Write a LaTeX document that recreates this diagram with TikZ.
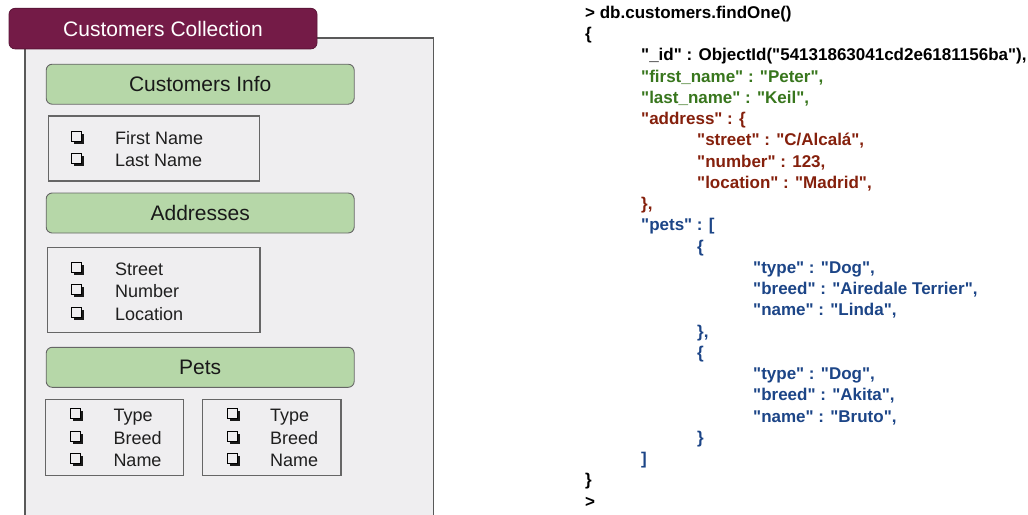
\documentclass[tikz,border=0pt]{standalone}
\usepackage{fontspec}
\setmainfont{Liberation Sans}[Ligatures=TeXOff]
\definecolor{tabmaroon}{HTML}{741B47}
\definecolor{headgreen}{HTML}{B6D7A8}
\definecolor{panelgray}{HTML}{EFEEF0}
\definecolor{edgegray}{HTML}{666666}
\definecolor{keygreen}{HTML}{38761D}
\definecolor{keyred}{HTML}{85200C}
\definecolor{keyblue}{HTML}{1C4587}
\tikzset{
  tabbox/.style={draw=tabmaroon!80!black, fill=tabmaroon, rounded corners=6pt, line width=0.8pt,
    minimum width=308pt, minimum height=40.5pt, inner sep=0pt, outer sep=0pt,
    text=white, font=\fontsize{21}{21}\selectfont},
  headbox/.style={draw=edgegray, fill=headgreen, rounded corners=6pt, line width=0.9pt,
    minimum width=308pt, minimum height=40pt, inner sep=0pt, outer sep=0pt,
    text=black!90, font=\fontsize{21}{21}\selectfont},
  listbox/.style={draw=edgegray, fill=panelgray, line width=1.3pt, inner sep=0pt, outer sep=0pt},
  item/.style={font=\fontsize{18}{18}\selectfont, anchor=base west, inner sep=0pt, text=black!88},
  code/.style={font=\bfseries\fontsize{17}{17}\selectfont, anchor=base west, inner sep=0pt},
  % shadowed check box, placed at the text baseline below its centre
  chkbox/.pic={
    \fill[black!90] (-2.4,-10.4) rectangle (7.6,-0.4);
    \draw[black, fill=panelgray, line width=0.7pt] (-5,-13) rectangle (5,-3);
  },
}
\begin{document}
\begin{tikzpicture}[x=1pt,y=-1pt]
\useasboundingbox (0,0) rectangle (1028,514);
\fill[white] (0,0) rectangle (1028,514);
\begin{scope}
\clip (0,0) rectangle (1028,514);
% collection panel
\draw[draw=black!65, fill=panelgray, line width=1.4pt] (25,38) rectangle (433.3,540);
\end{scope}
\node[tabbox] (tab) at (163,28.6) {Customers Collection};

% customers info
\node[headbox] (info) at (200.2,84.2) {Customers Info};
\node[listbox, minimum width=211pt, minimum height=65pt] (infolist) at (153.8,148.5) {};
\pic (c1) at (76,144) {chkbox};
\node[item] (t1) at (115,144) {First Name};
\pic (c2) at (76,166.5) {chkbox};
\node[item] (t2) at (115,166.5) {Last Name};

% addresses
\node[headbox] (addr) at (200.2,213) {Addresses};
\node[listbox, minimum width=212.3pt, minimum height=85pt] (addrlist) at (153.8,290.2) {};
\pic (c3) at (76,275) {chkbox};
\node[item] (t3) at (115,275) {Street};
\pic (c4) at (76,297.5) {chkbox};
\node[item] (t4) at (115,297.5) {Number};
\pic (c5) at (76,320) {chkbox};
\node[item] (t5) at (115,320) {Location};

% pets
\node[headbox] (pets) at (200.2,367.3) {Pets};
\node[listbox, minimum width=138pt, minimum height=76pt] (petA) at (114.7,437.3) {};
\node[listbox, minimum width=138.3pt, minimum height=76pt] (petB) at (271.8,437.3) {};
\pic (c6) at (75.5,421.7) {chkbox};
\node[item] (t6) at (113.3,421.7) {Type};
\pic (c7) at (75.5,444.3) {chkbox};
\node[item] (t7) at (113.3,444.3) {Breed};
\pic (c8) at (75.5,466.8) {chkbox};
\node[item] (t8) at (113.3,466.8) {Name};
\pic (c9) at (232,421.7) {chkbox};
\node[item] (t9) at (270,421.7) {Type};
\pic (c10) at (232,444.3) {chkbox};
\node[item] (t10) at (270,444.3) {Breed};
\pic (c11) at (232,466.8) {chkbox};
\node[item] (t11) at (270,466.8) {Name};

% shell session
\node[code, text=black] (l1) at (585,18.5) {> db.customers.findOne()};
\node[code, text=black] (l2) at (585,39.74) {\{};
\node[code, text=black] (l3) at (641,60.98) {"\_id" : ObjectId("54131863041cd2e6181156ba"),};
\node[code, text=keygreen] (l4) at (641,82.22) {"first\_name" : "Peter",};
\node[code, text=keygreen] (l5) at (641,103.46) {"last\_name" : "Keil",};
\node[code, text=keyred] (l6) at (641,124.7) {"address" : \{};
\node[code, text=keyred] (l7) at (697,145.94) {"street" : "C/Alcalá",};
\node[code, text=keyred] (l8) at (697,167.18) {"number" : 123,};
\node[code, text=keyred] (l9) at (697,188.42) {"location" : "Madrid",};
\node[code, text=keyred] (l10) at (641,209.66) {\},};
\node[code, text=keyblue] (l11) at (641,230.9) {"pets" : [};
\node[code, text=keyblue] (l12) at (697,252.14) {\{};
\node[code, text=keyblue] (l13) at (753,273.38) {"type" : "Dog",};
\node[code, text=keyblue] (l14) at (753,294.62) {"breed" : "Airedale Terrier",};
\node[code, text=keyblue] (l15) at (753,315.86) {"name" : "Linda",};
\node[code, text=keyblue] (l16) at (697,337.1) {\},};
\node[code, text=keyblue] (l17) at (697,358.34) {\{};
\node[code, text=keyblue] (l18) at (753,379.58) {"type" : "Dog",};
\node[code, text=keyblue] (l19) at (753,400.82) {"breed" : "Akita",};
\node[code, text=keyblue] (l20) at (753,422.06) {"name" : "Bruto",};
\node[code, text=keyblue] (l21) at (697,443.3) {\}};
\node[code, text=keyblue] (l22) at (641,464.54) {]};
\node[code, text=black] (l23) at (585,485.78) {\}};
\node[code, text=black] (l24) at (585,507.02) {>};
\end{tikzpicture}
\end{document}
